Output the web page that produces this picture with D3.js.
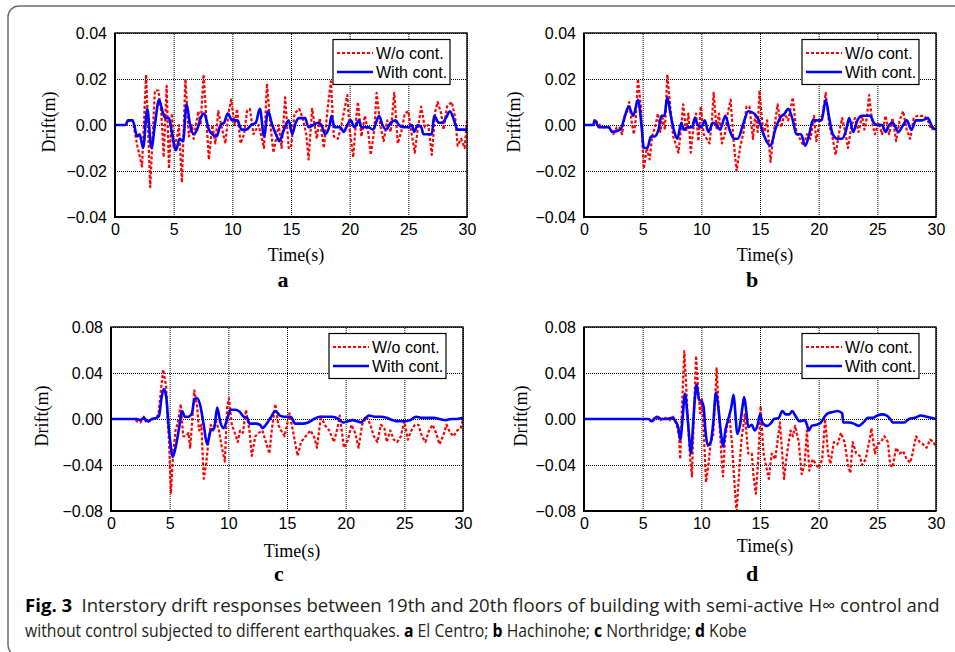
<!DOCTYPE html>
<html>
<head>
<meta charset="utf-8">
<script src="https://cdn.jsdelivr.net/npm/d3@7"></script>
<style>
  body { margin: 0; background: #fff; }
  svg { display: block; }
  .tick-label { font-family: "Liberation Sans", Arial, sans-serif; font-size: 16px; fill: #000; }
  .axis-title { font-family: "Liberation Serif", "Times New Roman", serif; font-size: 18px; fill: #000; }
  .panel-letter { font-family: "Liberation Serif", "Times New Roman", serif; font-size: 22px; font-weight: bold; fill: #000; }
  .legend-text { font-family: "Liberation Sans", Arial, sans-serif; font-size: 16px; fill: #000; }
  .caption { font-family: "Open Sans", sans-serif; font-size: 18px; fill: #231f20; }
</style>
</head>
<body>
<div id="chart"></div>
<script>
// Interstory drift, 19th-20th floor, with / without semi-active control
const seriesNames = ["W/o cont.", "With cont."];
const panelLetters = ["a", "b", "c", "d"];
const timeTicks = [0, 5, 10, 15, 20, 25, 30];
const driftTicksSmall = [-0.04, -0.02, 0, 0.02, 0.04];
const driftTicksLarge = [-0.08, -0.04, 0, 0.04, 0.08];

// [time (s), drift (m)]
const elCentroWithout = [[0,0],[1.0,0],[1.2,0.002],[1.5,0.002],[1.9,-0.009],[2.3,-0.018],[2.65,0.022],[3.0,-0.027],[3.4,0.015],[3.7,0.015],[3.95,0.005],[4.15,-0.014],[4.4,0.017],[4.6,-0.019],[4.85,0.005],[5.0,-0.01],[5.3,-0.005],[5.45,0.0],[5.7,-0.025],[6.0,0.020],[6.3,-0.005],[6.55,0.0],[6.7,-0.006],[7.1,0.006],[7.3,0.0],[7.55,0.022],[8.0,-0.015],[8.3,0.0],[8.55,-0.008],[8.8,0.006],[9.05,0.0],[9.4,-0.008],[9.7,0.006],[9.9,0.011],[10.2,0.0],[10.4,0.007],[10.7,-0.008],[11.0,-0.004],[11.25,0.006],[11.5,0.007],[11.8,-0.004],[12.25,0.0],[12.7,-0.010],[12.95,0.018],[13.25,0.0],[13.5,-0.012],[13.95,0.0],[14.2,-0.010],[14.5,0.012],[14.8,-0.010],[15.0,-0.010],[15.3,0.005],[15.7,0.007],[16.0,0.003],[16.3,-0.004],[16.5,-0.015],[16.8,0.007],[17.2,-0.006],[17.45,0.003],[17.8,-0.010],[18.1,0.006],[18.4,0.019],[18.65,-0.005],[19.0,-0.006],[19.3,0.0],[19.6,0.008],[19.8,0.013],[20.0,-0.002],[20.3,-0.014],[20.55,0.002],[20.7,0.010],[21.0,-0.005],[21.3,0.004],[21.6,-0.004],[21.8,-0.013],[22.1,-0.002],[22.3,0.014],[22.6,0.0],[22.9,-0.007],[23.2,0.002],[23.5,-0.003],[23.8,0.014],[24.1,-0.008],[24.4,-0.003],[24.7,0.005],[25.0,0.006],[25.25,-0.003],[25.55,-0.012],[25.8,-0.002],[26.1,0.008],[26.4,-0.001],[26.7,0.0],[27.0,-0.013],[27.3,0.006],[27.5,0.010],[27.8,0.005],[28.0,-0.002],[28.3,0.008],[28.7,0.010],[29.0,0.003],[29.2,-0.009],[29.5,-0.006],[29.8,-0.010],[30.0,0.002]];
const elCentroWith = [[0,0],[0.9,0],[1.1,0.002],[1.5,0.002],[1.9,-0.005],[2.1,-0.004],[2.4,-0.010],[2.75,0.007],[3.1,-0.010],[3.4,0.0],[3.75,0.011],[4.1,0.005],[4.3,0.003],[4.6,0.003],[4.8,-0.002],[5.2,-0.011],[5.5,-0.006],[5.8,-0.007],[6.1,0.009],[6.4,0.0],[6.7,-0.004],[7.0,-0.002],[7.3,0.003],[7.6,0.005],[8.0,-0.002],[8.3,-0.004],[8.65,-0.005],[9.0,0.0],[9.3,0.001],[9.6,0.005],[10.0,0.002],[10.4,0.002],[10.8,-0.002],[11.2,-0.002],[11.6,0.0],[12.0,0.001],[12.35,0.007],[12.7,-0.005],[13.05,0.006],[13.4,0.0],[13.8,-0.005],[14.0,-0.007],[14.4,-0.002],[14.8,0.002],[15.1,-0.004],[15.4,0.001],[15.7,0.003],[16.2,0.003],[16.5,-0.001],[16.9,0.0],[17.3,0.001],[17.6,0.0],[17.9,-0.004],[18.3,0.0],[18.45,0.004],[18.7,-0.001],[19.2,-0.001],[19.5,-0.003],[19.8,0.0],[20.1,0.002],[20.4,-0.001],[20.8,0.002],[21.0,-0.001],[21.6,-0.001],[22.0,-0.002],[22.5,0.004],[22.8,0.0],[23.1,-0.002],[23.5,0.001],[23.9,0.002],[24.2,0.0],[24.6,-0.001],[25.0,-0.001],[25.3,0.0],[25.5,-0.003],[25.8,0.0],[26.1,-0.001],[26.3,-0.004],[27.0,-0.004],[27.2,0.004],[27.6,0.001],[27.9,0.001],[28.2,0.003],[28.55,0.006],[28.9,0.002],[29.2,-0.002],[30.0,-0.002]];

const hachinoheWithout = [[0,0],[0.8,0],[0.9,0.002],[1.2,0.001],[1.5,-0.001],[1.8,-0.001],[2.2,-0.001],[2.5,-0.004],[2.8,-0.001],[3.0,-0.001],[3.25,-0.004],[3.5,0.005],[3.7,0.006],[3.85,0.010],[4.1,0.0],[4.25,-0.004],[4.4,0.002],[4.6,0.020],[4.85,0.008],[5.0,-0.010],[5.1,-0.019],[5.35,-0.010],[5.6,-0.015],[5.8,-0.005],[6.1,0.0],[6.3,0.005],[6.5,-0.003],[6.7,0.003],[6.9,-0.002],[7.1,0.022],[7.35,0.008],[7.6,-0.005],[7.8,-0.008],[8.05,-0.012],[8.3,0.0],[8.45,0.009],[8.7,-0.003],[8.9,0.005],[9.1,-0.012],[9.35,0.0],[9.55,0.005],[9.75,-0.007],[9.95,0.008],[10.2,-0.004],[10.45,-0.006],[10.7,-0.008],[10.9,0.002],[11.05,0.014],[11.3,-0.002],[11.5,0.005],[11.75,-0.008],[12.0,-0.004],[12.25,0.005],[12.5,0.011],[12.7,-0.004],[13.0,-0.020],[13.3,-0.010],[13.6,-0.003],[13.85,0.008],[14.1,0.008],[14.4,-0.006],[14.6,0.005],[14.8,-0.003],[14.95,0.015],[15.3,-0.005],[15.6,0.002],[15.9,-0.016],[16.2,-0.002],[16.5,0.009],[16.8,-0.001],[17.1,0.005],[17.4,0.002],[17.8,0.012],[18.1,-0.003],[18.4,-0.006],[18.7,-0.009],[19.0,-0.004],[19.3,-0.006],[19.6,0.004],[19.8,-0.007],[20.1,0.002],[20.35,0.005],[20.6,0.014],[20.9,0.0],[21.2,-0.006],[21.45,-0.013],[21.75,-0.003],[22.0,0.003],[22.3,-0.004],[22.5,-0.010],[22.8,0.0],[23.1,0.003],[23.4,-0.003],[23.7,0.004],[23.9,-0.002],[24.1,0.003],[24.3,0.013],[24.6,0.0],[24.8,-0.004],[25.1,0.001],[25.4,-0.004],[25.7,0.004],[26.0,-0.004],[26.3,0.003],[26.6,-0.007],[26.9,0.002],[27.2,0.006],[27.5,-0.002],[27.8,-0.006],[28.1,0.003],[28.4,0.004],[28.7,0.004],[29.0,0.004],[29.3,0.002],[29.6,-0.002],[30.0,-0.001]];
const hachinoheWith = [[0,0],[0.8,0],[0.9,0.002],[1.3,-0.001],[1.7,-0.001],[2.1,-0.001],[2.4,-0.003],[3.1,-0.002],[3.5,0.004],[3.8,0.008],[4.2,0.004],[4.6,0.011],[4.9,0.0],[5.1,-0.010],[5.4,-0.010],[5.7,-0.005],[6.0,-0.005],[6.35,-0.002],[6.6,0.004],[6.85,0.004],[7.1,0.012],[7.4,0.004],[7.7,-0.003],[7.95,-0.006],[8.3,0.001],[8.5,-0.002],[8.8,-0.001],[9.2,-0.001],[9.45,0.003],[9.7,0.0],[10.0,-0.001],[10.3,0.002],[10.6,-0.003],[11.0,0.001],[11.3,0.0],[11.6,-0.002],[12.05,0.004],[12.4,-0.002],[12.8,-0.006],[13.1,-0.006],[13.6,0.001],[14.0,0.006],[14.5,0.005],[14.9,0.002],[15.3,-0.004],[15.9,-0.009],[16.3,-0.002],[16.7,0.003],[17.1,0.005],[17.4,0.007],[17.8,0.002],[18.1,-0.004],[18.5,-0.004],[18.85,-0.009],[19.2,-0.004],[19.5,0.002],[19.9,0.002],[20.25,0.002],[20.6,0.011],[20.9,0.003],[21.2,-0.004],[21.6,-0.006],[22.0,-0.006],[22.35,-0.002],[22.6,0.003],[22.95,-0.003],[23.3,0.002],[23.7,0.004],[24.1,0.004],[24.4,0.004],[24.7,0.001],[25.0,0.0],[25.4,0.0],[25.7,-0.003],[26.0,0.0],[26.3,0.001],[26.8,-0.003],[27.2,0.0],[27.5,0.002],[27.9,-0.002],[28.3,0.002],[28.8,0.002],[29.3,0.003],[29.7,-0.001],[30.0,-0.002]];

const northridgeWithout = [[0,0],[2.0,0],[2.2,-0.002],[2.5,-0.003],[2.8,0.002],[3.0,-0.003],[3.3,-0.002],[3.6,0.0],[3.9,0.002],[4.05,0.004],[4.2,0.020],[4.45,0.043],[4.7,0.028],[4.85,-0.005],[4.95,-0.020],[5.1,-0.065],[5.3,-0.030],[5.5,-0.010],[5.7,-0.003],[5.95,0.013],[6.15,-0.015],[6.4,-0.015],[6.6,-0.012],[6.75,-0.025],[6.9,-0.005],[7.1,0.025],[7.35,0.010],[7.5,-0.010],[7.7,-0.005],[7.9,-0.052],[8.1,-0.040],[8.3,-0.020],[8.5,-0.005],[8.7,-0.010],[8.9,0.0],[9.2,-0.010],[9.45,-0.025],[9.7,-0.037],[9.9,0.010],[10.05,0.018],[10.3,-0.005],[10.55,-0.012],[10.8,-0.020],[11.0,-0.010],[11.25,-0.012],[11.5,0.008],[11.8,-0.010],[12.0,-0.032],[12.3,-0.015],[12.6,-0.012],[12.9,-0.010],[13.2,-0.020],[13.5,-0.030],[13.7,-0.010],[14.0,0.013],[14.25,-0.005],[14.5,-0.010],[14.8,-0.015],[15.0,-0.005],[15.2,0.005],[15.5,-0.010],[15.9,-0.032],[16.2,-0.020],[16.6,-0.015],[17.0,-0.010],[17.3,-0.015],[17.55,-0.025],[17.9,0.003],[18.2,-0.005],[18.6,-0.010],[19.0,-0.020],[19.3,-0.008],[19.5,0.003],[19.85,-0.025],[20.2,-0.018],[20.5,-0.005],[20.8,-0.012],[21.1,-0.025],[21.4,-0.005],[21.8,0.002],[22.1,-0.005],[22.4,-0.015],[22.7,-0.020],[23.0,-0.005],[23.3,-0.008],[23.5,-0.020],[23.8,-0.010],[24.1,-0.018],[24.4,-0.020],[24.7,-0.015],[25.0,-0.002],[25.3,-0.018],[25.6,-0.010],[25.9,-0.005],[26.2,-0.005],[26.5,-0.015],[26.8,-0.020],[27.1,-0.010],[27.4,-0.005],[27.7,-0.012],[28.0,-0.022],[28.3,-0.015],[28.6,-0.005],[28.9,-0.012],[29.2,-0.015],[29.5,-0.010],[29.8,-0.008],[30.0,0.0]];
const northridgeWith = [[0,0],[2.2,0],[2.5,-0.001],[2.8,0.001],[3.1,-0.002],[3.5,0.0],[3.9,0.001],[4.1,0.003],[4.3,0.018],[4.5,0.026],[4.7,0.020],[4.9,-0.005],[5.05,-0.020],[5.25,-0.033],[5.5,-0.025],[5.8,-0.008],[6.05,0.007],[6.3,0.002],[6.6,0.002],[6.9,0.005],[7.1,0.017],[7.35,0.018],[7.6,0.012],[7.9,-0.005],[8.2,-0.022],[8.5,-0.010],[8.8,-0.008],[9.05,0.010],[9.3,-0.002],[9.6,-0.008],[9.9,0.0],[10.2,0.008],[10.6,0.008],[11.0,0.006],[11.3,0.002],[11.6,0.001],[11.8,-0.004],[12.3,-0.004],[12.7,-0.005],[12.9,-0.008],[13.2,-0.005],[13.6,0.001],[14.0,0.007],[14.4,0.003],[14.8,0.002],[15.3,0.002],[15.7,-0.004],[16.3,-0.004],[16.8,-0.003],[17.3,0.0],[17.8,0.002],[18.3,0.002],[18.8,0.002],[19.4,0.0],[19.8,-0.003],[20.2,-0.002],[20.6,-0.001],[21.0,-0.002],[21.3,-0.003],[21.7,0.001],[22.0,0.003],[22.5,0.002],[23.0,0.002],[23.5,0.001],[24.0,-0.001],[24.5,-0.002],[25.0,-0.002],[25.5,-0.001],[26.0,0.002],[26.5,0.001],[27.0,0.001],[27.5,0.001],[28.0,0.0],[28.5,-0.001],[29.0,0.0],[29.5,0.0],[30.0,0.001]];

const kobeWithout = [[0,0],[5.5,0],[5.7,-0.002],[6.1,0.002],[6.5,-0.001],[6.9,0.001],[7.3,-0.001],[7.6,0.002],[7.9,-0.005],[8.1,-0.015],[8.2,-0.035],[8.35,0.010],[8.55,0.059],[8.75,0.020],[8.9,-0.010],[9.05,-0.035],[9.2,-0.050],[9.35,0.0],[9.55,0.055],[9.7,0.030],[9.9,0.005],[10.05,0.017],[10.2,-0.010],[10.4,-0.055],[10.6,-0.040],[10.8,-0.020],[11.0,-0.015],[11.2,0.020],[11.3,0.044],[11.5,0.005],[11.7,-0.030],[11.85,-0.050],[12.0,-0.020],[12.2,-0.005],[12.4,0.002],[12.6,-0.020],[12.85,-0.060],[13.0,-0.082],[13.2,-0.050],[13.4,-0.020],[13.7,0.004],[14.0,-0.030],[14.3,-0.030],[14.45,-0.050],[14.65,-0.065],[14.85,-0.035],[15.05,0.011],[15.3,-0.030],[15.5,-0.040],[15.75,-0.052],[16.0,-0.030],[16.3,-0.035],[16.7,-0.003],[17.05,-0.052],[17.3,-0.030],[17.6,-0.010],[17.8,-0.015],[18.0,-0.006],[18.3,-0.020],[18.55,-0.048],[18.8,-0.040],[19.0,-0.010],[19.2,-0.045],[19.5,-0.035],[19.8,-0.040],[20.0,-0.043],[20.3,-0.035],[20.55,0.0],[20.8,-0.030],[21.0,-0.039],[21.3,-0.020],[21.6,-0.022],[21.9,-0.012],[22.2,-0.020],[22.5,-0.040],[22.7,-0.047],[22.9,-0.020],[23.2,-0.030],[23.5,-0.032],[23.7,-0.040],[24.0,-0.035],[24.3,-0.020],[24.5,-0.008],[24.8,-0.030],[25.0,-0.022],[25.3,-0.020],[25.6,-0.015],[25.9,-0.020],[26.1,-0.040],[26.3,-0.042],[26.6,-0.025],[26.9,-0.030],[27.2,-0.028],[27.5,-0.035],[27.8,-0.038],[28.0,-0.030],[28.3,-0.015],[28.6,-0.020],[28.9,-0.022],[29.2,-0.025],[29.5,-0.018],[29.8,-0.020],[30.0,-0.025]];
const kobeWith = [[0,0],[5.5,0],[5.8,-0.002],[6.2,0.002],[6.6,0.0],[7.0,0.0],[7.5,0.001],[7.8,-0.002],[8.05,-0.008],[8.2,-0.018],[8.4,0.0],[8.6,0.022],[8.8,0.005],[9.0,-0.020],[9.1,-0.030],[9.3,-0.005],[9.45,0.018],[9.6,0.030],[9.8,0.017],[10.05,0.015],[10.2,0.010],[10.35,-0.010],[10.55,-0.023],[10.8,-0.020],[11.0,-0.005],[11.25,0.023],[11.45,0.010],[11.65,-0.010],[11.85,-0.024],[12.05,-0.010],[12.3,0.0],[12.55,0.010],[12.75,0.021],[12.9,0.005],[13.05,-0.013],[13.3,-0.005],[13.5,0.010],[13.65,0.019],[13.85,0.005],[14.0,-0.007],[14.3,-0.005],[14.55,-0.010],[14.8,-0.005],[15.0,0.004],[15.2,-0.003],[15.6,-0.006],[15.9,-0.004],[16.2,0.0],[16.6,0.001],[16.9,0.007],[17.2,0.004],[17.5,0.004],[17.75,0.007],[18.0,0.003],[18.4,-0.002],[18.8,-0.001],[19.0,-0.005],[19.15,-0.010],[19.4,-0.006],[19.8,-0.005],[20.2,-0.003],[20.5,0.002],[20.8,0.005],[21.2,0.006],[21.6,0.007],[22.0,0.005],[22.1,-0.003],[22.6,-0.003],[23.0,-0.004],[23.4,-0.006],[23.8,-0.003],[24.2,0.001],[24.6,0.001],[25.0,0.003],[25.4,0.004],[25.8,0.003],[26.1,0.0],[26.3,-0.003],[26.8,-0.003],[27.3,-0.003],[27.7,0.0],[28.2,0.001],[28.7,0.003],[29.2,0.002],[29.6,0.001],[30.0,0.0]];

const captionLine1 = [
  { text: "Fig. 3", bold: true },
  { text: "\u2002Interstory drift responses between 19th and 20th floors of building with semi-active H\u221E control and", bold: false }
];
const captionLine2 = [
  { text: "without control subjected to different earthquakes. ", bold: false },
  { text: "a", bold: true }, { text: " El Centro; ", bold: false },
  { text: "b", bold: true }, { text: " Hachinohe; ", bold: false },
  { text: "c", bold: true }, { text: " Northridge; ", bold: false },
  { text: "d", bold: true }, { text: " Kobe", bold: false }
];

const W = 955, H = 652;
const svg = d3.select("#chart").append("svg").attr("width", W).attr("height", H);

// rounded figure frame
svg.append("rect")
  .attr("x", 8).attr("y", 6).attr("width", 970).attr("height", 650).attr("rx", 11)
  .attr("fill", "none").attr("stroke", "#6d6e71").attr("stroke-width", 1.5);

const panels = [
  { left: 115, top: 33, w: 352, h: 184, ticks: driftTicksSmall, data: [elCentroWithout, elCentroWith], titleDy: 44, letterDy: 70, driftDx: -66 },
  { left: 584, top: 33, w: 352, h: 184, ticks: driftTicksSmall, data: [hachinoheWithout, hachinoheWith], titleDy: 44, letterDy: 70, driftDx: -70 },
  { left: 111, top: 327, w: 352, h: 184, ticks: driftTicksLarge, data: [northridgeWithout, northridgeWith], titleDy: 46, letterDy: 70, driftDx: -69 },
  { left: 584, top: 327, w: 352, h: 184, ticks: driftTicksLarge, data: [kobeWithout, kobeWith], titleDy: 41, letterDy: 70, driftDx: -63 }
];

const styles = [
  { color: "#ff0000", width: 2.2, dash: "3,2", curve: d3.curveLinear },
  { color: "#0000ff", width: 2.6, dash: null, curve: d3.curveMonotoneX }
];

panels.forEach((p, i) => {
  const g = svg.append("g").attr("transform", `translate(${p.left},${p.top})`);
  const x = d3.scaleLinear().domain([0, 30]).range([0, p.w]);
  const y = d3.scaleLinear().domain([p.ticks[0], p.ticks[p.ticks.length - 1]]).range([p.h, 0]);

  // dotted grid
  g.append("g").attr("transform", `translate(0,${p.h})`)
    .call(d3.axisBottom(x).tickValues(timeTicks).tickSize(-p.h).tickFormat(""))
    .call(a => a.select(".domain").remove())
    .call(a => a.selectAll("line").attr("stroke", "#000").attr("stroke-width", 1).attr("stroke-dasharray", "1,1"));
  g.append("g")
    .call(d3.axisLeft(y).tickValues(p.ticks).tickSize(-p.w).tickFormat(""))
    .call(a => a.select(".domain").remove())
    .call(a => a.selectAll("line").attr("stroke", "#000").attr("stroke-width", 1).attr("stroke-dasharray", "1,1"));

  // tick labels
  g.append("g").attr("transform", `translate(0,${p.h})`)
    .call(d3.axisBottom(x).tickValues(timeTicks).tickSize(0).tickPadding(7))
    .call(a => a.select(".domain").remove())
    .call(a => a.selectAll("text").attr("class", "tick-label").attr("font-size", null).attr("font-family", null));
  g.append("g")
    .call(d3.axisLeft(y).tickValues(p.ticks).tickSize(0).tickPadding(8).tickFormat(d => d3.format(".2f")(d)))
    .call(a => a.select(".domain").remove())
    .call(a => a.selectAll("text").attr("class", "tick-label").attr("font-size", null).attr("font-family", null));

  // series
  const clipId = "clip" + i;
  g.append("clipPath").attr("id", clipId).append("rect").attr("width", p.w).attr("height", p.h);
  p.data.forEach((series, k) => {
    const line = d3.line().x(d => x(d[0])).y(d => y(d[1])).curve(styles[k].curve);
    g.append("path").datum(series)
      .attr("clip-path", `url(#${clipId})`)
      .attr("d", line)
      .attr("fill", "none")
      .attr("stroke", styles[k].color)
      .attr("stroke-width", styles[k].width)
      .attr("stroke-dasharray", styles[k].dash)
      .attr("stroke-linejoin", "round");
  });

  // plot frame
  g.append("rect").attr("width", p.w).attr("height", p.h)
    .attr("fill", "none").attr("stroke", "#000").attr("stroke-width", 1.4);
  g.append("path").attr("d", `M0,0V${p.h}H${p.w}`).attr("fill", "none").attr("stroke", "#000").attr("stroke-width", 2);

  // legend
  const lg = g.append("g").attr("transform", `translate(${p.w - 134},6.5)`);
  lg.append("rect").attr("width", 117).attr("height", 45)
    .attr("fill", "#fff").attr("stroke", "#000").attr("stroke-width", 1.2);
  seriesNames.forEach((name, k) => {
    const yy = 13.5 + k * 19;
    lg.append("line").attr("x1", 4).attr("x2", 40).attr("y1", yy).attr("y2", yy)
      .attr("stroke", styles[k].color).attr("stroke-width", styles[k].width)
      .attr("stroke-dasharray", styles[k].dash);
    lg.append("text").attr("class", "legend-text").attr("x", 43).attr("y", yy + 5.5).text(name);
  });

  // axis titles
  g.append("text").attr("class", "axis-title").attr("text-anchor", "middle")
    .attr("x", p.w / 2 + 5).attr("y", p.h + p.titleDy).text("Time(s)");
  g.append("text").attr("class", "axis-title").attr("text-anchor", "middle")
    .attr("transform", `translate(${p.driftDx},${p.h / 2 - 3}) rotate(-90)`).attr("dy", "0.35em").text("Drift(m)");
  g.append("text").attr("class", "panel-letter").attr("text-anchor", "middle")
    .attr("x", p.w / 2 - 8).attr("y", p.h + p.letterDy).text(panelLetters[i]);
});

// caption, squeezed horizontally to the condensed width of the original
function caption(parts, yPos, len) {
  const t = svg.append("text").attr("class", "caption");
  parts.forEach(part => {
    t.append("tspan").attr("font-weight", part.bold ? "bold" : "normal")
      .attr("fill", part.bold ? "#000" : null).text(part.text);
  });
  const natural = t.node().getComputedTextLength();
  t.attr("transform", `translate(25,${yPos}) scale(${len / natural},1)`);
}
caption(captionLine1, 612, 915);
caption(captionLine2, 637, 722);
</script>
</body>
</html>
